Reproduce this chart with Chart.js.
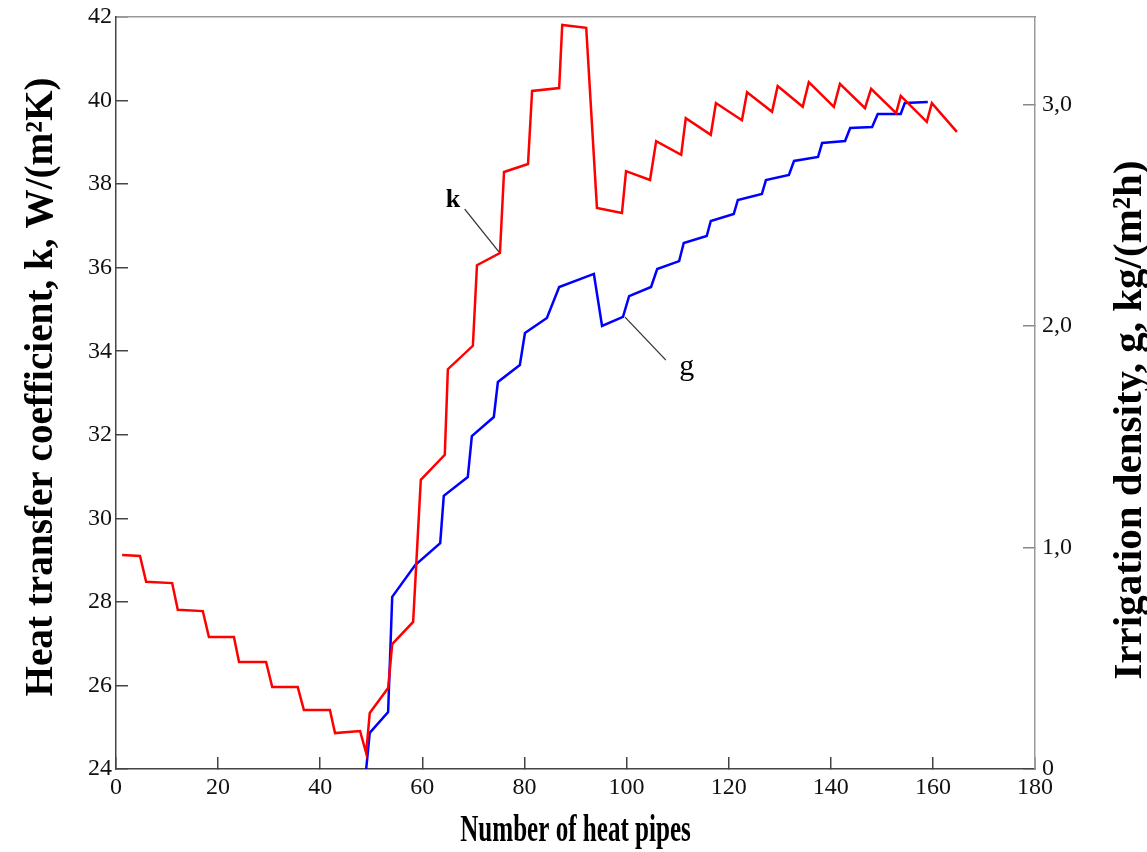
<!DOCTYPE html>
<html>
<head>
<meta charset="utf-8">
<script src="https://cdn.jsdelivr.net/npm/chart.js@4.4.0/dist/chart.umd.min.js"></script>
<style>
  html, body { margin: 0; padding: 0; background: #fff; }
  #wrap { width: 1147px; height: 852px; }
</style>
</head>
<body>
<div id="wrap"><canvas id="chart"></canvas></div>
<script>
// k - heat transfer coefficient, W/(m2K)  (left axis)
const kPipes = [1.2, 4.7, 5.9, 11.0, 12.1, 17.0, 18.2, 23.1, 24.1, 29.4,
  30.6, 35.6, 36.8, 41.9, 42.9, 47.8, 49.0, 49.7, 53.3, 54.1,
  58.2, 59.7, 64.4, 65.0, 69.9, 70.7, 75.2, 76.0, 80.7, 81.5,
  86.8, 87.4, 92.1, 94.2, 99.1, 99.9, 104.6, 105.8, 110.7, 111.6,
  116.5, 117.5, 122.6, 123.6, 128.5, 129.6, 134.5, 135.7, 140.6, 141.8,
  146.7, 147.9, 152.8, 153.7, 158.8, 159.8, 164.7];
const kValues = [29.12, 29.10, 28.48, 28.45, 27.81, 27.78, 27.16, 27.16, 26.56, 26.56,
  25.96, 25.96, 25.41, 25.41, 24.86, 24.91, 24.38, 25.34, 25.94, 26.99,
  27.52, 30.92, 31.52, 33.57, 34.13, 36.06, 36.35, 38.29, 38.48, 40.23,
  40.30, 41.81, 41.74, 37.43, 37.31, 38.31, 38.10, 39.03, 38.70, 39.58,
  39.18, 39.94, 39.53, 40.20, 39.73, 40.35, 39.85, 40.44, 39.85, 40.40,
  39.82, 40.28, 39.70, 40.11, 39.49, 39.94, 39.25];

// g - irrigation density, kg/(m2h)  (right axis)
const gPipes = [49.0, 49.7, 53.3, 54.1, 58.6, 63.5, 64.2, 68.9, 69.7, 74.0,
  74.8, 79.1, 80.1, 84.4, 86.8, 93.6, 95.2, 99.3, 100.5, 104.8,
  106.0, 110.3, 111.2, 115.7, 116.5, 121.0, 121.8, 126.5, 127.3, 131.8,
  132.8, 137.5, 138.3, 142.8, 143.8, 148.1, 149.2, 153.7, 154.5, 159.0];
const gValues = [0, 0.163, 0.257, 0.777, 0.921, 1.020, 1.233, 1.318, 1.503, 1.589,
  1.747, 1.824, 1.968, 2.036, 2.176, 2.235, 2.000, 2.041, 2.135, 2.176,
  2.257, 2.293, 2.375, 2.406, 2.474, 2.506, 2.569, 2.596, 2.659, 2.682,
  2.745, 2.763, 2.826, 2.835, 2.894, 2.898, 2.957, 2.957, 3.007, 3.011];

// leader lines for the curve labels
const kLeaderPipes = [68.3, 75.2];
const kLeaderValues = [37.40, 36.35];
const gLeaderPipes = [99.7, 107.7];
const gLeaderValues = [2.04, 1.846];

// axis ticks
const xTicks = [0, 20, 40, 60, 80, 100, 120, 140, 160, 180];
const kTicks = [24, 26, 28, 30, 32, 34, 36, 38, 40, 42];
const gTicks = [0, 1, 2, 3];

function toPoints(xs, ys) {
  return xs.map((x, i) => ({ x: x, y: ys[i] }));
}

const serif = 'Liberation Serif';

// titles + curve labels, drawn as text on the canvas
const textPlugin = {
  id: 'textLabels',
  afterDraw(chart) {
    const ctx = chart.ctx;
    const area = chart.chartArea;
    const sx = chart.scales.x, sy = chart.scales.y, sg = chart.scales.y2;

    function put(text, x, y, rot, font, squeeze, align, base) {
      ctx.save();
      ctx.translate(x, y);
      ctx.rotate(rot);
      ctx.scale(squeeze, 1);
      ctx.font = font;
      ctx.fillStyle = '#000';
      ctx.textAlign = align || 'center';
      ctx.textBaseline = base || 'alphabetic';
      ctx.fillText(text, 0, 0);
      ctx.restore();
    }

    // axis titles
    put('Heat transfer coefficient, k, W/(m\u00B2K)', 52, 387,
      -Math.PI / 2, 'bold 40px ' + serif, 0.98);
    put('Irrigation density, g, kg/(m\u00B2h)', 1141, 420,
      -Math.PI / 2, 'bold 41px ' + serif, 1.0);
    put('Number of heat pipes', (area.left + area.right) / 2, 841,
      0, 'bold 38px ' + serif, 0.66);

    // curve labels
    put('k', sx.getPixelForValue(66.0), sy.getPixelForValue(37.62), 0,
      'bold 26px ' + serif, 1.0, 'center', 'middle');
    put('g', sx.getPixelForValue(111.8), sg.getPixelForValue(1.815), 0,
      '30px ' + serif, 1.0, 'center', 'middle');
  }
};

const tickFont = { family: serif, size: 24 };

new Chart(document.getElementById('chart'), {
  type: 'line',
  data: {
    datasets: [
      {
        label: 'k',
        data: toPoints(kPipes, kValues),
        yAxisID: 'y',
        borderColor: '#ff0000',
        borderWidth: 2.5,
        pointRadius: 0,
        tension: 0
      },
      {
        label: 'g',
        data: toPoints(gPipes, gValues),
        yAxisID: 'y2',
        borderColor: '#0000ff',
        borderWidth: 2.5,
        pointRadius: 0,
        tension: 0
      },
      {
        label: 'k leader',
        data: toPoints(kLeaderPipes, kLeaderValues),
        yAxisID: 'y',
        borderColor: '#333',
        borderWidth: 1.3,
        pointRadius: 0
      },
      {
        label: 'g leader',
        data: toPoints(gLeaderPipes, gLeaderValues),
        yAxisID: 'y2',
        borderColor: '#333',
        borderWidth: 1.3,
        pointRadius: 0
      }
    ]
  },
  options: {
    responsive: true,
    maintainAspectRatio: false,
    animation: false,
    layout: { padding: { top: 17, left: 0, right: 0, bottom: 0 } },
    plugins: {
      legend: { display: false },
      tooltip: { enabled: false }
    },
    scales: {
      x: {
        type: 'linear',
        position: 'bottom',
        min: 0,
        max: 180,
        afterBuildTicks: (s) => { s.ticks = xTicks.map(v => ({ value: v })); },
        ticks: { font: tickFont, color: '#111', padding: 16, maxRotation: 0 },
        grid: { drawOnChartArea: false, tickLength: -12, color: '#444', lineWidth: 1.5 },
        border: { color: '#444', width: 1.5 },
        afterFit: (s) => { s.height = 83; }
      },
      xTop: {
        type: 'linear',
        position: 'top',
        min: 0,
        max: 180,
        ticks: { display: false },
        grid: { drawOnChartArea: false, drawTicks: false },
        border: { color: '#999', width: 1.5 },
        afterFit: (s) => { s.height = 0; }
      },
      y: {
        type: 'linear',
        position: 'left',
        min: 24,
        max: 42,
        afterBuildTicks: (s) => { s.ticks = kTicks.map(v => ({ value: v })); },
        ticks: { font: tickFont, color: '#111', padding: 16 },
        grid: { drawOnChartArea: false, tickLength: -12, color: '#444', lineWidth: 1.5 },
        border: { color: '#444', width: 1.5 },
        afterFit: (s) => { s.width = 116; s.paddingTop = 0; s.paddingBottom = 0; }
      },
      y2: {
        type: 'linear',
        position: 'right',
        min: 0,
        max: 3.395,
        afterBuildTicks: (s) => { s.ticks = gTicks.map(v => ({ value: v })); },
        ticks: {
          font: tickFont,
          color: '#111',
          padding: 19,
          callback: (v) => v === 0 ? '0' : v.toFixed(1).replace('.', ',')
        },
        grid: { drawOnChartArea: false, tickLength: -12, color: '#888', lineWidth: 1.5 },
        border: { color: '#999', width: 1.5 },
        afterFit: (s) => { s.width = 112; s.paddingTop = 0; s.paddingBottom = 0; }
      }
    }
  },
  plugins: [textPlugin]
});
</script>
</body>
</html>
